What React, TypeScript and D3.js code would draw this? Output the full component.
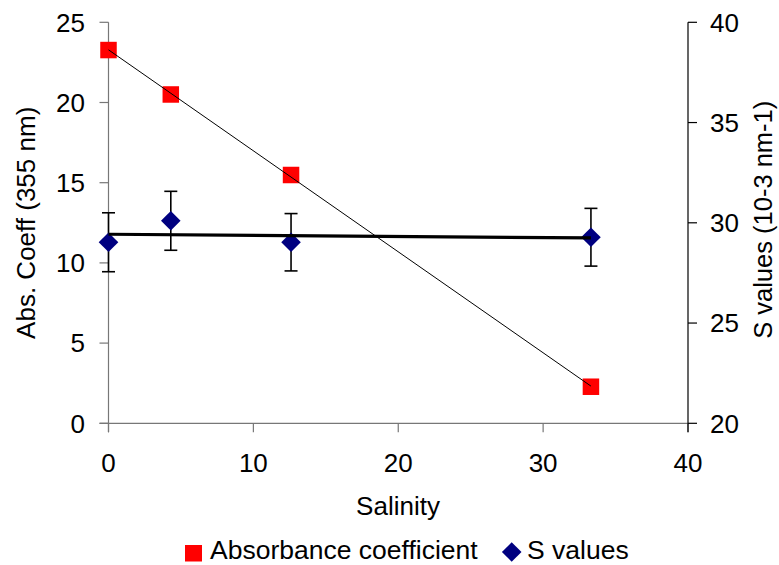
import React from "react";
import * as d3 from "d3";

// Salinity stations and the two measured series
const salinity = [0, 4.3, 12.6, 33.3];
const absCoeff = [23.27, 20.5, 15.48, 2.28];
const sValues = [29.03, 30.1, 29.03, 29.28];
const sError = [1.47, 1.47, 1.43, 1.44];

const xTicks = [0, 10, 20, 30, 40];
const leftTicks = [0, 5, 10, 15, 20, 25];
const rightTicks = [20, 25, 30, 35, 40];

const W = 779;
const H = 565;
const FONT = "'Liberation Sans', Arial, sans-serif";
const FS = 26;

function linearFit(xs: number[], ys: number[]) {
  const mx = d3.mean(xs)!;
  const my = d3.mean(ys)!;
  let sxy = 0;
  let sxx = 0;
  xs.forEach((x, i) => {
    sxy += (x - mx) * (ys[i] - my);
    sxx += (x - mx) * (x - mx);
  });
  const slope = sxy / sxx;
  const intercept = my - slope * mx;
  return (x: number) => intercept + slope * x;
}

export default function App() {
  const x = d3.scaleLinear().domain([0, 40]).range([108.5, 688]);
  const yL = d3.scaleLinear().domain([0, 25]).range([423.3, 22.3]);
  const yR = d3.scaleLinear().domain([20, 40]).range([423.3, 22.3]);

  const x0 = x(0);
  const x1 = x(40);
  const yBottom = yL(0);
  const yTop = yL(25);

  const fitAbs = linearFit(salinity, absCoeff);
  const fitS = linearFit(salinity, sValues);
  const xMin = d3.min(salinity)!;
  const xMax = d3.max(salinity)!;

  const line = d3.line<[number, number]>();
  const absLine = line([
    [x(xMin), yL(fitAbs(xMin))],
    [x(xMax), yL(fitAbs(xMax))],
  ]);
  const sLine = line([
    [x(xMin), yR(fitS(xMin))],
    [x(xMax), yR(fitS(xMax))],
  ]);

  const sq = 16.5;
  const dm = 9.8;
  const diamond = (cx: number, cy: number) =>
    `M${cx},${cy - dm}L${cx + dm},${cy}L${cx},${cy + dm}L${cx - dm},${cy}Z`;

  return (
    <svg
      width={W}
      height={H}
      style={{ position: "absolute", left: 0, top: 0, background: "#fff" }}
      fontFamily={FONT}
    >
      {/* left axis */}
      <line x1={x0} x2={x0} y1={yTop} y2={yBottom + 9} stroke="#777" strokeWidth={1.2} />
      {leftTicks.map((t) => (
        <g key={"l" + t}>
          <line x1={x0 - 9} x2={x0} y1={yL(t)} y2={yL(t)} stroke="#777" strokeWidth={1.2} />
          <text x={85} y={yL(t)} dy="0.36em" textAnchor="end" fontSize={FS}>
            {t}
          </text>
        </g>
      ))}

      {/* bottom axis */}
      <line x1={x0 - 9} x2={x1} y1={yBottom} y2={yBottom} stroke="#777" strokeWidth={1.2} />
      {xTicks.map((t) => (
        <g key={"x" + t}>
          <line x1={x(t)} x2={x(t)} y1={yBottom} y2={yBottom + 9} stroke="#777" strokeWidth={1.2} />
          <text x={x(t)} y={471.5} textAnchor="middle" fontSize={FS}>
            {t}
          </text>
        </g>
      ))}

      {/* right axis */}
      <line x1={x1} x2={x1} y1={yTop} y2={yBottom + 9} stroke="#000" strokeWidth={1.2} />
      {rightTicks.map((t) => (
        <g key={"r" + t}>
          <line x1={x1} x2={x1 + 9} y1={yR(t)} y2={yR(t)} stroke="#000" strokeWidth={1.2} />
          <text x={710} y={yR(t)} dy="0.36em" textAnchor="start" fontSize={FS}>
            {t}
          </text>
        </g>
      ))}

      {/* axis titles */}
      <text x={398} y={515} textAnchor="middle" fontSize={FS}>
        Salinity
      </text>
      <text
        transform={`translate(35,${(yTop + yBottom) / 2}) rotate(-90)`}
        textAnchor="middle"
        fontSize={FS}
      >
        Abs. Coeff (355 nm)
      </text>
      <text
        transform={`translate(772,${(yTop + yBottom) / 2 - 3}) rotate(-90)`}
        textAnchor="middle"
        fontSize={25.5}
      >
        S values (10-3 nm-1)
      </text>

      {/* S value error bars */}
      {salinity.map((s, i) => {
        const cx = x(s);
        const hi = yR(sValues[i] + sError[i]);
        const lo = yR(sValues[i] - sError[i]);
        return (
          <g key={"e" + i} stroke="#000" strokeWidth={1.6}>
            <line x1={cx} x2={cx} y1={hi} y2={lo} />
            <line x1={cx - 6.5} x2={cx + 6.5} y1={hi} y2={hi} />
            <line x1={cx - 6.5} x2={cx + 6.5} y1={lo} y2={lo} />
          </g>
        );
      })}

      {/* absorbance markers */}
      {salinity.map((s, i) => (
        <rect
          key={"a" + i}
          x={x(s) - sq / 2}
          y={yL(absCoeff[i]) - sq / 2}
          width={sq}
          height={sq}
          fill="#FF0000"
        />
      ))}

      {/* S value markers */}
      {salinity.map((s, i) => (
        <path key={"s" + i} d={diamond(x(s), yR(sValues[i]))} fill="#000080" />
      ))}

      {/* linear trendlines */}
      <path d={absLine!} stroke="#000" strokeWidth={1} fill="none" />
      <path d={sLine!} stroke="#000" strokeWidth={3.2} fill="none" />

      {/* legend */}
      <rect x={185} y={545} width={17} height={16.5} fill="#FF0000" />
      <text x={210} y={559} fontSize={26.5}>
        Absorbance coefficient
      </text>
      <path d={`M511.7,542.3L521.5,552L511.7,561.7L501.9,552Z`} fill="#000080" />
      <text x={527} y={559} fontSize={26.5}>
        S values
      </text>
    </svg>
  );
}
